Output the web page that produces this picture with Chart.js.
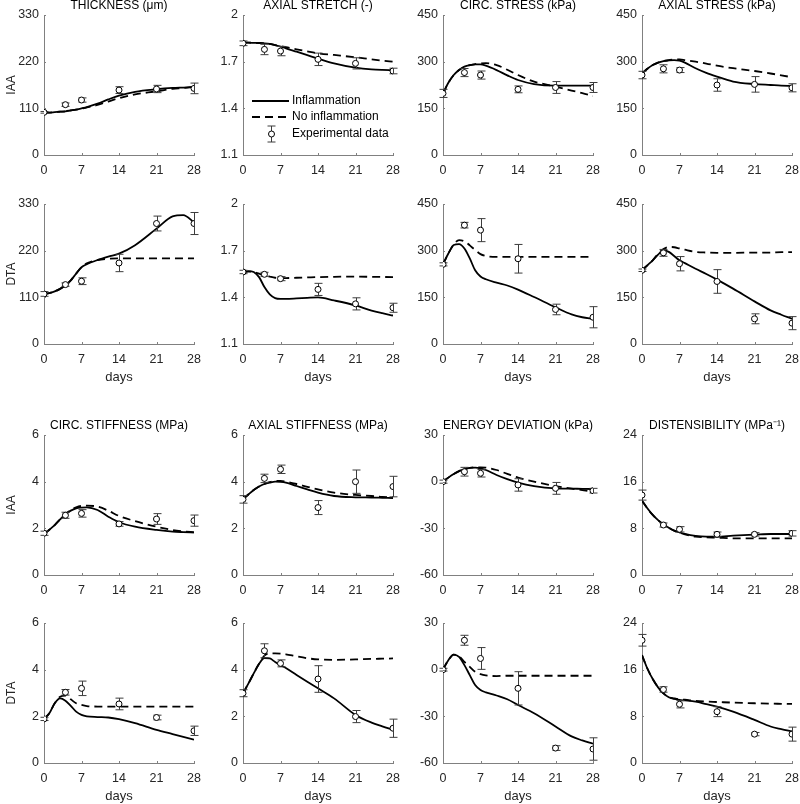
<!DOCTYPE html>
<html><head><meta charset="utf-8">
<script src="https://cdn.jsdelivr.net/npm/chart.js@4.4.0/dist/chart.umd.min.js"></script>
<style>
html,body{margin:0;padding:0;background:#fff;width:800px;height:804px;overflow:hidden;position:relative}
canvas{position:absolute}
</style></head><body>
<script>
// ---------- DATA ----------
const expDays = [0, 4, 7, 14, 21, 28];
const curveDays = [0, 1, 2, 3, 4, 5, 6, 7, 8, 10, 12, 14, 17, 21, 24, 26, 28];
const xTickLabels = [0, 7, 14, 21, 28];

const thicknessTicks = [0, 110, 220, 330];
const stretchTicks = [1.1, 1.4, 1.7, 2];
const stressTicks = [0, 150, 300, 450];
const stiffTicks = [0, 2, 4, 6];
const energyTicks = [-60, -30, 0, 30];
const distTicks = [0, 8, 16, 24];

const seriesLabels = ['Inflammation', 'No inflammation', 'Experimental data'];

// IAA row 1
const thicknessIAA_inflam = [100,100,101,102,103,105,107,110,113,121,131,140,149,155,158,159,160];
const thicknessIAA_noInflam = [100,100,101,102,103,105,107,109,112,118,126,134,143,150,156,158,161];
const thicknessIAA_exp = [100.6,118.6,129.6,153,155.6,157];
const thicknessIAA_err = [2,4,5,8,8.6,12.5];

const stretchIAA_inflam = [1.822,1.822,1.821,1.82,1.818,1.814,1.806,1.796,1.786,1.764,1.742,1.72,1.689,1.661,1.65,1.647,1.646];
const stretchIAA_noInflam = [1.822,1.822,1.821,1.82,1.818,1.814,1.807,1.80,1.794,1.779,1.766,1.754,1.743,1.728,1.715,1.707,1.70];
const stretchIAA_exp = [1.818,1.779,1.768,1.715,1.689,1.64];
const stretchIAA_err = [0.015,0.034,0.03,0.04,0.036,0.018];

const circStressIAA_inflam = [198,232,257,273,284,289,291,291,287,273,256,241,228,223,223,223,223];
const circStressIAA_noInflam = [198,232,257,273,283,289,292,294,295,289,274,257,236,220,207,199,190];
const circStressIAA_exp = [198,265,257,211,217,217];
const circStressIAA_err = [13,13,13,11,19,16];

const axStressIAA_inflam = [262,277,289,297,302,304,305,303,297,279,264,252,236,228,225,223,222];
const axStressIAA_noInflam = [262,277,289,297,302,305,307,307,305,300,294,287,279,270,262,256,250];
const axStressIAA_exp = [257,277,273,225,227,216];
const axStressIAA_err = [12,13,8,20,25,13];

// DTA row 2
const thicknessDTA_inflam = [118,120,124,130,138,150,166,181,188,198,206,213,233,272,301,304,287];
const thicknessDTA_noInflam = [118,120,124,130,138,150,166,181,190,198,201,202,202,202,202,202,202];
const thicknessDTA_exp = [118,140,148,191,284,284];
const thicknessDTA_err = [5.5,4,8,20.5,17.5,26];

const stretchDTA_inflam = [1.563,1.569,1.563,1.53,1.466,1.419,1.395,1.39,1.39,1.393,1.397,1.40,1.38,1.348,1.315,1.298,1.283];
const stretchDTA_noInflam = [1.563,1.565,1.563,1.552,1.541,1.533,1.526,1.524,1.524,1.526,1.528,1.53,1.532,1.533,1.532,1.531,1.53];
const stretchDTA_exp = [1.563,1.548,1.52,1.451,1.358,1.333];
const stretchDTA_err = [0.011,0.013,0.013,0.039,0.039,0.029];

const circStressDTA_inflam = [256,291,318,321,307,275,237,217,208,197,188,175,151,118,95,86,81];
const circStressDTA_noInflam = [256,291,320,334,330,317,302,289,283,280,280,280,280,280,280,280,280];
const circStressDTA_exp = [256,382,366,274,111,86];
const circStressDTA_err = [5,9,37,46,17,34];

const axStressDTA_inflam = [237,253,269,287,302,296,283,269,260,242,225,207,178,137,108,94,81];
const axStressDTA_noInflam = [237,253,269,290,305,312,311,307,303,296,294,293,293,294,294,295,295];
const axStressDTA_exp = [237,293,258,201,81,67];
const axStressDTA_err = [4,11,23,38,16,21];

// IAA row 3
const circStiffIAA_inflam = [1.757,1.94,2.14,2.38,2.61,2.76,2.857,2.89,2.9,2.786,2.5,2.26,2.07,1.93,1.857,1.84,1.83];
const circStiffIAA_noInflam = [1.757,1.94,2.14,2.38,2.61,2.78,2.9,2.96,2.97,2.93,2.757,2.53,2.31,2.07,1.93,1.87,1.83];
const circStiffIAA_exp = [1.79,2.56,2.64,2.19,2.4,2.33];
const circStiffIAA_err = [0.09,0.13,0.16,0.1,0.23,0.24];

const axStiffIAA_inflam = [3.243,3.45,3.643,3.79,3.9,3.96,4.0,3.99,3.957,3.814,3.67,3.53,3.386,3.33,3.32,3.31,3.30];
const axStiffIAA_noInflam = [3.243,3.45,3.643,3.79,3.9,3.98,4.03,4.03,4.0,3.9,3.78,3.67,3.53,3.43,3.386,3.35,3.33];
const axStiffIAA_exp = [3.24,4.14,4.53,2.89,4.0,3.79];
const axStiffIAA_err = [0.16,0.18,0.18,0.3,0.5,0.44];

const energyIAA_inflam = [0,2.6,4.9,6.8,8.1,8.8,9.0,8.6,7.5,4.3,1.6,-0.6,-2.8,-4.3,-4.5,-4.6,-4.7];
const energyIAA_noInflam = [0,2.6,4.9,6.8,8.1,8.9,9.2,9.2,9.0,7.5,5.0,2.6,0,-2.8,-4.5,-5.4,-6.4];
const energyIAA_exp = [0,6.4,5.4,-2.1,-4.3,-5.8];
const energyIAA_err = [1,2.8,2.4,4,3.8,1.5];

const distIAA_inflam = [12.74,11.43,10.29,9.4,8.69,8.1,7.6,7.3,7.03,6.69,6.57,6.57,6.74,6.91,7.03,7.03,7.03];
const distIAA_noInflam = [12.74,11.43,10.29,9.4,8.69,8.1,7.6,7.25,6.97,6.57,6.46,6.4,6.29,6.29,6.29,6.29,6.29];
const distIAA_exp = [13.7,8.57,7.83,6.97,6.97,7.14];
const distIAA_err = [0.86,0.35,0.46,0.4,0.29,0.46];

// DTA row 4
const circStiffDTA_inflam = [1.89,2.13,2.56,2.77,2.67,2.45,2.2,2.06,2.0,1.97,1.95,1.88,1.71,1.42,1.24,1.12,1.0];
const circStiffDTA_noInflam = [1.89,2.13,2.56,2.84,2.89,2.73,2.56,2.49,2.44,2.42,2.42,2.42,2.42,2.42,2.42,2.42,2.42];
const circStiffDTA_exp = [1.89,3.03,3.2,2.53,1.95,1.38];
const circStiffDTA_err = [0.07,0.12,0.31,0.25,0.1,0.2];

const axStiffDTA_inflam = [2.99,3.4,3.84,4.25,4.5,4.48,4.33,4.19,4.07,3.77,3.48,3.2,2.77,2.06,1.73,1.57,1.42];
const axStiffDTA_noInflam = [2.99,3.4,3.84,4.25,4.6,4.7,4.7,4.69,4.66,4.57,4.49,4.44,4.42,4.44,4.46,4.47,4.48];
const axStiffDTA_exp = [2.99,4.81,4.27,3.6,1.99,1.49];
const axStiffDTA_err = [0.15,0.3,0.15,0.57,0.26,0.39];

const energyDTA_inflam = [0.2,6.1,9.7,8.2,2.9,-3.5,-9.9,-13.1,-14.6,-16.6,-19.0,-22.7,-28,-36.5,-42.9,-45.5,-47.6];
const energyDTA_noInflam = [0,6.1,9.7,8.7,5.0,1.8,-1.4,-2.9,-3.7,-4.1,-3.9,-3.9,-3.9,-3.9,-3.9,-3.9,-3.9];
const energyDTA_exp = [0,18.9,7.2,-12,-50.4,-51];
const energyDTA_err = [0.9,3.2,7,10.7,1.5,7.2];

const distDTA_inflam = [18.48,16.2,14.39,12.97,11.94,11.26,10.98,10.8,10.72,10.52,10.1,9.67,8.8,7.39,6.26,5.8,5.4];
const distDTA_noInflam = [18.48,16.2,14.39,12.97,11.94,11.3,11.09,10.92,10.85,10.63,10.53,10.46,10.35,10.24,10.18,10.15,10.12];
const distDTA_exp = [21.04,12.6,10.07,8.8,4.95,4.95];
const distDTA_err = [1.0,0.46,0.63,0.85,0.28,1.2];

// ---------- PANELS ----------
const panels = [
  {title:'THICKNESS (\u03bcm)', group:'IAA', ticks:thicknessTicks, a:thicknessIAA_inflam, b:thicknessIAA_noInflam, e:thicknessIAA_exp, r:thicknessIAA_err},
  {title:'AXIAL STRETCH (-)', ticks:stretchTicks, a:stretchIAA_inflam, b:stretchIAA_noInflam, e:stretchIAA_exp, r:stretchIAA_err, legend:true},
  {title:'CIRC. STRESS (kPa)', ticks:stressTicks, a:circStressIAA_inflam, b:circStressIAA_noInflam, e:circStressIAA_exp, r:circStressIAA_err},
  {title:'AXIAL STRESS (kPa)', ticks:stressTicks, a:axStressIAA_inflam, b:axStressIAA_noInflam, e:axStressIAA_exp, r:axStressIAA_err},
  {title:'', group:'DTA', ticks:thicknessTicks, a:thicknessDTA_inflam, b:thicknessDTA_noInflam, e:thicknessDTA_exp, r:thicknessDTA_err, days:true},
  {title:'', ticks:stretchTicks, a:stretchDTA_inflam, b:stretchDTA_noInflam, e:stretchDTA_exp, r:stretchDTA_err, days:true},
  {title:'', ticks:stressTicks, a:circStressDTA_inflam, b:circStressDTA_noInflam, e:circStressDTA_exp, r:circStressDTA_err, days:true},
  {title:'', ticks:stressTicks, a:axStressDTA_inflam, b:axStressDTA_noInflam, e:axStressDTA_exp, r:axStressDTA_err, days:true},
  {title:'CIRC. STIFFNESS (MPa)', group:'IAA', ticks:stiffTicks, a:circStiffIAA_inflam, b:circStiffIAA_noInflam, e:circStiffIAA_exp, r:circStiffIAA_err},
  {title:'AXIAL STIFFNESS (MPa)', ticks:stiffTicks, a:axStiffIAA_inflam, b:axStiffIAA_noInflam, e:axStiffIAA_exp, r:axStiffIAA_err},
  {title:'ENERGY DEVIATION (kPa)', ticks:energyTicks, a:energyIAA_inflam, b:energyIAA_noInflam, e:energyIAA_exp, r:energyIAA_err},
  {title:'DISTENSIBILITY (MPa\u207B\u00B9)', ticks:distTicks, a:distIAA_inflam, b:distIAA_noInflam, e:distIAA_exp, r:distIAA_err},
  {title:'', group:'DTA', ticks:stiffTicks, a:circStiffDTA_inflam, b:circStiffDTA_noInflam, e:circStiffDTA_exp, r:circStiffDTA_err, days:true},
  {title:'', ticks:stiffTicks, a:axStiffDTA_inflam, b:axStiffDTA_noInflam, e:axStiffDTA_exp, r:axStiffDTA_err, days:true},
  {title:'', ticks:energyTicks, a:energyDTA_inflam, b:energyDTA_noInflam, e:energyDTA_exp, r:energyDTA_err, days:true},
  {title:'', ticks:distTicks, a:distDTA_inflam, b:distDTA_noInflam, e:distDTA_exp, r:distDTA_err, days:true}
];

// ---------- LAYOUT ----------
const colLeft = [44, 243, 443, 642];
const rowTop = [15, 204, 435, 623];
const PLOT_W = 150, PLOT_H = 140, Y_W = 44, X_H = 45, PAD_T = 15, PAD_R = 10;
const FONT = "'Liberation Sans', Arial, Helvetica, sans-serif";
const AXIS_COLOR = '#808080';
const TEXT_COLOR = '#262626';

const decor = {
  id: 'decor',
  beforeDatasetDraw(chart, args) {
    const ds = chart.data.datasets[args.index];
    if (!ds.errors) return;
    const ctx = chart.ctx, xs = chart.scales.x, ys = chart.scales.y;
    ctx.save();
    ctx.strokeStyle = '#3c3c3c'; ctx.lineWidth = 1;
    ds.data.forEach((p, i) => {
      const e = ds.errors[i];
      const px = Math.round(xs.getPixelForValue(p.x)) + 0.5;
      const y1 = ys.getPixelForValue(p.y + e), y2 = ys.getPixelForValue(p.y - e);
      ctx.beginPath();
      ctx.moveTo(px, y1); ctx.lineTo(px, y2);
      ctx.moveTo(px - 4, y1); ctx.lineTo(px + 4, y1);
      ctx.moveTo(px - 4, y2); ctx.lineTo(px + 4, y2);
      ctx.stroke();
    });
    ctx.restore();
  },
  afterDraw(chart) {
    const o = chart.options.plugins.decor;
    const ctx = chart.ctx, a = chart.chartArea;
    const xs = chart.scales.x, ys = chart.scales.y;
    const L = xs.getPixelForValue(xs.min), R = xs.getPixelForValue(xs.max);
    const T = ys.getPixelForValue(ys.max), B = ys.getPixelForValue(ys.min);
    ctx.save();
    ctx.strokeStyle = AXIS_COLOR; ctx.lineWidth = 1;
    ctx.beginPath();
    xs.ticks.forEach(t => {
      const px = Math.round(xs.getPixelForValue(t.value)) + 0.5;
      ctx.moveTo(px, B); ctx.lineTo(px, B - 2);
    });
    ys.ticks.forEach(t => {
      const py = Math.round(ys.getPixelForValue(t.value)) + 0.5;
      ctx.moveTo(L, py); ctx.lineTo(L + 2, py);
    });
    ctx.stroke();
    if (o.title) {
      ctx.fillStyle = '#000';
      ctx.font = `12px ${FONT}`;
      ctx.textAlign = 'center'; ctx.textBaseline = 'middle';
      ctx.fillText(o.title, (L + R) / 2, T - 9);
    }
    if (o.legend) {
      const dss = chart.data.datasets;
      const rows = [86, 102, 119];
      ctx.font = `12px ${FONT}`;
      ctx.textAlign = 'left'; ctx.textBaseline = 'middle';
      ctx.fillStyle = '#000';
      const x0 = L + 9, x1 = L + 46, tx = L + 49;
      ctx.strokeStyle = '#000'; ctx.lineWidth = 1.8;
      ctx.setLineDash([]);
      ctx.beginPath(); ctx.moveTo(x0, T + rows[0]); ctx.lineTo(x1, T + rows[0]); ctx.stroke();
      ctx.fillText(dss[1].label, tx, T + rows[0]);
      ctx.setLineDash([8, 5]);
      ctx.beginPath(); ctx.moveTo(x0, T + rows[1]); ctx.lineTo(x1, T + rows[1]); ctx.stroke();
      ctx.setLineDash([]);
      ctx.fillText(dss[2].label, tx, T + rows[1]);
      const mx = L + 28.5, my = T + rows[2];
      ctx.strokeStyle = '#3c3c3c'; ctx.lineWidth = 1;
      ctx.beginPath();
      ctx.moveTo(mx, my - 8); ctx.lineTo(mx, my + 8);
      ctx.moveTo(mx - 4, my - 8); ctx.lineTo(mx + 4, my - 8);
      ctx.moveTo(mx - 4, my + 8); ctx.lineTo(mx + 4, my + 8);
      ctx.stroke();
      ctx.beginPath(); ctx.arc(mx, my, 3, 0, Math.PI * 2);
      ctx.fillStyle = '#fff'; ctx.fill();
      ctx.strokeStyle = '#000'; ctx.stroke();
      ctx.fillStyle = '#000';
      ctx.fillText(dss[0].label, tx, my);
    }
    ctx.restore();
  }
};

const fmt = v => String(+Number(v).toFixed(3));

function buildConfig(p) {
  const tickList = p.ticks;
  return {
    type: 'line',
    data: {
      datasets: [
        {
          label: seriesLabels[2],
          data: expDays.map((d, k) => ({x: d, y: p.e[k]})),
          errors: p.r,
          showLine: false,
          pointRadius: 3, pointHoverRadius: 3,
          pointBackgroundColor: '#fff', pointBorderColor: '#000', pointBorderWidth: 1,
          borderColor: '#000'
        },
        {
          label: seriesLabels[0],
          data: curveDays.map((d, k) => ({x: d, y: p.a[k]})),
          borderColor: '#000', borderWidth: 1.8, pointRadius: 0,
          cubicInterpolationMode: 'monotone', fill: false
        },
        {
          label: seriesLabels[1],
          data: curveDays.map((d, k) => ({x: d, y: p.b[k]})),
          borderColor: '#000', borderWidth: 1.8, borderDash: [8, 5], pointRadius: 0,
          cubicInterpolationMode: 'monotone', fill: false
        }
      ]
    },
    options: {
      responsive: false, maintainAspectRatio: false, animation: false, devicePixelRatio: 1,
      events: [],
      layout: {autoPadding: false, padding: {top: PAD_T, right: PAD_R, left: 0, bottom: 0}},
      plugins: {
        legend: {display: false}, tooltip: {enabled: false}, title: {display: false},
        decor: {title: p.title, legend: !!p.legend}
      },
      scales: {
        x: {
          type: 'linear', min: 0, max: 28,
          afterBuildTicks: s => { s.ticks = xTickLabels.map(v => ({value: v})); },
          afterFit: s => { s.height = X_H; s.paddingLeft = 0; s.paddingRight = 0; },
          grid: {display: false, drawTicks: false},
          border: {display: true, color: AXIS_COLOR, width: 1},
          ticks: {color: TEXT_COLOR, font: {family: FONT, size: 12.5}, padding: 8, maxRotation: 0, autoSkip: false, callback: fmt},
          title: {display: !!p.days, text: 'days', color: TEXT_COLOR, font: {family: FONT, size: 13}, padding: {top: 4, bottom: 4}}
        },
        y: {
          type: 'linear', min: tickList[0], max: tickList[tickList.length - 1],
          afterBuildTicks: s => { s.ticks = tickList.map(v => ({value: v})); },
          afterFit: s => { s.width = Y_W; s.paddingTop = 0; s.paddingBottom = 0; },
          grid: {display: false, drawTicks: false},
          border: {display: true, color: AXIS_COLOR, width: 1},
          ticks: {color: TEXT_COLOR, font: {family: FONT, size: 12.5}, padding: 5, autoSkip: false, callback: fmt},
          title: {display: !!p.group, text: p.group || '', color: TEXT_COLOR, font: {family: FONT, size: 12}, padding: {top: 4, bottom: 4}}
        }
      }
    },
    plugins: [decor]
  };
}

panels.forEach((p, i) => {
  const row = Math.floor(i / 4), col = i % 4;
  let W = Y_W + PLOT_W + PAD_R, H = PAD_T + PLOT_H + X_H;
  let left = colLeft[col] - Y_W, top = rowTop[row] - PAD_T;
  let cv, chart;
  for (let k = 0; k < 4; k++) {
    if (chart) { chart.destroy(); cv.remove(); }
    cv = document.createElement('canvas');
    cv.width = W; cv.height = H;
    cv.style.width = W + 'px'; cv.style.height = H + 'px';
    cv.style.left = left + 'px'; cv.style.top = top + 'px';
    document.body.appendChild(cv);
    chart = new Chart(cv.getContext('2d'), buildConfig(p));
    // measure where the axis extremes actually land
    const xs = chart.scales.x, ys = chart.scales.y;
    const L = xs.getPixelForValue(xs.min), R = xs.getPixelForValue(xs.max);
    const T = ys.getPixelForValue(ys.max), B = ys.getPixelForValue(ys.min);
    const dx = (colLeft[col] - left) - L;
    const dy = (rowTop[row] - top) - T;
    const dw = PLOT_W - (R - L);
    const dh = PLOT_H - (B - T);
    if (Math.abs(dx) < 0.5 && Math.abs(dy) < 0.5 && Math.abs(dw) < 0.5 && Math.abs(dh) < 0.5) break;
    left -= Math.round(dx); top -= Math.round(dy);
    W += Math.round(dw); H += Math.round(dh);
  }
});
</script>
</body></html>
